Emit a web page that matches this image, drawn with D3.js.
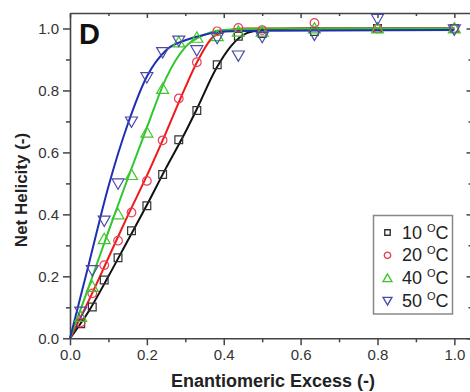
<!DOCTYPE html>
<html><head><meta charset="utf-8">
<script src="https://cdn.jsdelivr.net/npm/d3@7"></script>
<style>
html,body{margin:0;padding:0;background:#fff;}
svg{display:block;}
text{font-family:"Liberation Sans",Arial,sans-serif;}
</style></head>
<body>
<script>
// ---- data ----
const seriesNames = ["10 ºC", "20 ºC", "40 ºC", "50 ºC"];
const tempLabels = ["10 ", "20 ", "40 ", "50 "];
const eeValues = [0.028, 0.058, 0.089, 0.125, 0.16, 0.2, 0.241, 0.283, 0.33, 0.383, 0.438, 0.5, 0.636, 0.8, 1.0];
const helicity10 = [0.047, 0.101, 0.188, 0.26, 0.347, 0.428, 0.529, 0.641, 0.735, 0.883, 0.975, 0.984, 0.99, 1.0, 1.0];
const helicity20 = [0.051, 0.145, 0.236, 0.315, 0.406, 0.508, 0.639, 0.774, 0.891, 0.991, 1.002, 0.995, 1.018, 1.0, 1.0];
const helicity40 = [0.069, 0.166, 0.32, 0.40, 0.527, 0.664, 0.805, 0.955, 0.97, 0.975, 0.99, 0.99, 1.0, 1.0, 1.0];
const helicity50 = [0.086, 0.22, 0.38, 0.50, 0.70, 0.843, 0.924, 0.961, 0.93, 0.97, 0.913, 0.973, 0.98, 1.031, 0.997];

const fitX10 = [0, 0.05, 0.1, 0.15, 0.2, 0.25, 0.3, 0.33, 0.38, 0.42, 0.46, 0.5, 0.6, 1.0];
const fitY10 = [0, 0.09, 0.2, 0.315, 0.43, 0.55, 0.665, 0.74, 0.87, 0.945, 0.985, 0.995, 1.0, 1.0];
const fitX20 = [0, 0.05, 0.1, 0.15, 0.2, 0.25, 0.3, 0.33, 0.37, 0.4, 0.45, 0.6, 1.0];
const fitY20 = [0, 0.125, 0.26, 0.395, 0.525, 0.665, 0.81, 0.89, 0.97, 0.99, 1.0, 1.0, 1.0];
const fitX40 = [0, 0.05, 0.1, 0.15, 0.2, 0.25, 0.3, 0.35, 0.4, 0.5, 1.0];
const fitY40 = [0, 0.17, 0.345, 0.515, 0.68, 0.84, 0.94, 0.98, 0.995, 1.0, 1.0];
const fitX50 = [0, 0.05, 0.1, 0.15, 0.2, 0.25, 0.3, 0.35, 0.4, 0.5, 1.0];
const fitY50 = [0, 0.245, 0.49, 0.69, 0.845, 0.93, 0.962, 0.98, 0.99, 0.993, 0.995];

const xTicks = [0.0, 0.2, 0.4, 0.6, 0.8, 1.0];
const yTicks = [0.0, 0.2, 0.4, 0.6, 0.8, 1.0];
const minorTicks = [0.1, 0.3, 0.5, 0.7, 0.9];

// ---- styles ----
const W = 470, H = 392;
const margin = {left: 70, right: 0, top: 13, bottom: 54};
const markerColors = ["#333333", "#e8405a", "#44c42c", "#4a4aaa"];
const lineColors = ["#111111", "#f01818", "#2ec82e", "#1f2fb0"];
const symbolTypes = [d3.symbolSquare, d3.symbolCircle, d3.symbolTriangle, d3.symbolTriangle];
const symbolRot = [0, 0, 0, 180];
const symbolSizes = [60, 58, 62, 62];
const legendSizes = [30, 32, 34, 34];

const series = [
  {vals: helicity10, fx: fitX10, fy: fitY10},
  {vals: helicity20, fx: fitX20, fy: fitY20},
  {vals: helicity40, fx: fitX40, fy: fitY40},
  {vals: helicity50, fx: fitX50, fy: fitY50}
];

const svg = d3.select("body").append("svg").attr("width", W).attr("height", H);

const x = d3.scaleLinear().domain([0, 1.042]).range([margin.left, 470.5]);
const y = d3.scaleLinear().domain([0, 1.05]).range([338.3, margin.top]);

const axisColor = "#444";
function styleAxis(g) {
  g.select(".domain").attr("stroke", axisColor).attr("stroke-width", 1.6);
  g.selectAll(".tick line").attr("stroke", axisColor).attr("stroke-width", 1.5);
  g.selectAll(".tick text").attr("fill", "#333").attr("font-size", 15)
    .attr("font-family", "'Liberation Sans', Arial, sans-serif");
}

// bottom
const gB = svg.append("g").attr("transform", `translate(0,${y(0)})`)
  .call(d3.axisBottom(x).tickValues(xTicks).tickFormat(d3.format(".1f")).tickSizeInner(7).tickSizeOuter(0).tickPadding(4));
styleAxis(gB);
svg.append("g").attr("transform", `translate(0,${y(0)})`)
  .call(d3.axisBottom(x).tickValues(minorTicks).tickFormat("").tickSizeInner(4).tickSizeOuter(0))
  .call(g => { g.select(".domain").remove(); g.selectAll("line").attr("stroke", axisColor).attr("stroke-width", 1.5); });
// left
const gL = svg.append("g").attr("transform", `translate(${x(0)},0)`)
  .call(d3.axisLeft(y).tickValues(yTicks).tickFormat(d3.format(".1f")).tickSizeInner(7).tickSizeOuter(0).tickPadding(4));
styleAxis(gL);
svg.append("g").attr("transform", `translate(${x(0)},0)`)
  .call(d3.axisLeft(y).tickValues(minorTicks).tickFormat("").tickSizeInner(4).tickSizeOuter(0))
  .call(g => { g.select(".domain").remove(); g.selectAll("line").attr("stroke", axisColor).attr("stroke-width", 1.5); });
// top
const gT = svg.append("g").attr("transform", `translate(0,${y(1.05)})`)
  .call(d3.axisTop(x).tickValues(xTicks).tickFormat("").tickSizeInner(-5).tickSizeOuter(0));
styleAxis(gT);
svg.append("g").attr("transform", `translate(0,${y(1.05)})`)
  .call(d3.axisTop(x).tickValues(minorTicks).tickFormat("").tickSizeInner(-3).tickSizeOuter(0))
  .call(g => { g.select(".domain").remove(); g.selectAll("line").attr("stroke", axisColor).attr("stroke-width", 1.5); });
// right
const gR = svg.append("g").attr("transform", `translate(${x(1.042)},0)`)
  .call(d3.axisRight(y).tickValues(yTicks).tickFormat("").tickSizeInner(-4).tickSizeOuter(0));
styleAxis(gR);
svg.append("g").attr("transform", `translate(${x(1.042)},0)`)
  .call(d3.axisRight(y).tickValues(minorTicks).tickFormat("").tickSizeInner(-2).tickSizeOuter(0))
  .call(g => { g.select(".domain").remove(); g.selectAll("line").attr("stroke", axisColor).attr("stroke-width", 1.5); });

// fit lines
const line = d3.line().x(d => x(d[0])).y(d => y(d[1])).curve(d3.curveMonotoneX);
series.forEach((s, i) => {
  const pts = s.fx.map((v, j) => [v, s.fy[j]]);
  svg.append("path").datum(pts).attr("d", line)
    .attr("fill", "none").attr("stroke", lineColors[i]).attr("stroke-width", 2);
});

// markers
series.forEach((s, i) => {
  const sym = d3.symbol().type(symbolTypes[i]).size(symbolSizes[i]);
  svg.append("g").selectAll("path").data(s.vals.map((v, j) => [eeValues[j], v])).join("path")
    .attr("d", sym)
    .attr("transform", d => `translate(${x(d[0])},${y(d[1]) + (i === 2 ? 1 : i === 3 ? -1 : 0)}) rotate(${symbolRot[i]})`)
    .attr("fill", "none").attr("stroke", markerColors[i]).attr("stroke-width", 1.2);
});

// panel label
svg.append("text").attr("x", 79).attr("y", 43.5).attr("font-size", 29).attr("font-weight", "bold")
  .attr("fill", "#111").text("D");

// axis titles
svg.append("text").attr("x", 273).attr("y", 387).attr("text-anchor", "middle")
  .attr("font-size", 18).attr("font-weight", "bold").attr("fill", "#222").text("Enantiomeric Excess (-)");
svg.append("text").attr("transform", "translate(27,190) rotate(-90)").attr("text-anchor", "middle")
  .attr("font-size", 17).attr("font-weight", "bold").attr("fill", "#222").text("Net Helicity (-)");

// legend
const lg = svg.append("g");
lg.append("rect").attr("x", 373.5).attr("y", 215.5).attr("width", 79).attr("height", 98.5)
  .attr("fill", "#fff").attr("stroke", "#888").attr("stroke-width", 1.5);
tempLabels.forEach((t, i) => {
  const yb = 238.5 + i * 22.8;
  const sym = d3.symbol().type(symbolTypes[i]).size(legendSizes[i]);
  lg.append("path").attr("d", sym)
    .attr("transform", `translate(387.5,${yb - 6 + (i === 2 ? 1 : i === 3 ? -1 : 0)}) rotate(${symbolRot[i]})`)
    .attr("fill", "none").attr("stroke", markerColors[i]).attr("stroke-width", 1.4);
  const tx = lg.append("text").attr("x", 402).attr("y", yb).attr("font-size", 18).attr("fill", "#222");
  tx.append("tspan").text(t);
  tx.append("tspan").attr("font-size", 11).attr("dy", -7).text("O");
  tx.append("tspan").attr("dy", 7).text("C");
});
</script>
</body></html>
